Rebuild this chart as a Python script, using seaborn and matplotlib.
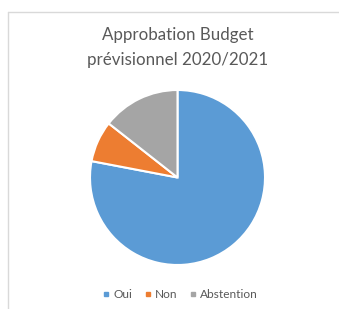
import matplotlib
matplotlib.use("Agg")
import matplotlib.pyplot as plt
from matplotlib.lines import Line2D
import seaborn as sns

labels = ["Oui", "Non", "Abstention"]
values = [78.0, 7.6, 14.4]
colors = ["#5B9BD5", "#ED7D31", "#A5A5A5"]
title_lines = ["Approbation Budget", "prévisionnel 2020/2021"]

sns.set_theme(style="white")
plt.rcParams['font.family'] = ['Lato', 'DejaVu Sans']

W, H = 339, 309
fig = plt.figure(figsize=(W / 100, H / 100), dpi=100)
fig.patch.set_facecolor("white")

cx, cy, r = 177.5, 177.5, 87.5
ax = fig.add_axes([(cx - r) / W, 1 - (cy + r) / H, 2 * r / W, 2 * r / H])
wedges, _ = ax.pie(values, colors=colors, startangle=90, counterclock=False,
                   wedgeprops=dict(edgecolor="white", linewidth=1.5), radius=1)
ax.set_xlim(-1, 1)
ax.set_ylim(-1, 1)
ax.set_aspect("equal")
ax.axis("off")

for txt, yy in zip(title_lines, [35, 60]):
    fig.text(178 / W, 1 - yy / H, txt, ha="center", va="center", fontsize=12.2,
             color="#595959")

handles = [Line2D([0], [0], marker="s", linestyle="", markersize=3.5,
                  markerfacecolor=c, markeredgecolor=c) for c in colors]
fig.legend(handles, labels, loc="center", bbox_to_anchor=(180 / W, 1 - 295 / H),
           ncol=3, frameon=False, fontsize=8.6, handlelength=0.6,
           handletextpad=0.3, columnspacing=1.0, labelcolor="#595959")

bc = "#d9d9d9"
fig.add_artist(Line2D([8 / W, 1], [1 - 12 / H, 1 - 12 / H], color=bc, lw=1,
                      transform=fig.transFigure))
fig.add_artist(Line2D([8 / W, 8 / W], [0, 1 - 12 / H], color=bc, lw=1,
                      transform=fig.transFigure))

fig.savefig("out.png", dpi=100, facecolor="white")
